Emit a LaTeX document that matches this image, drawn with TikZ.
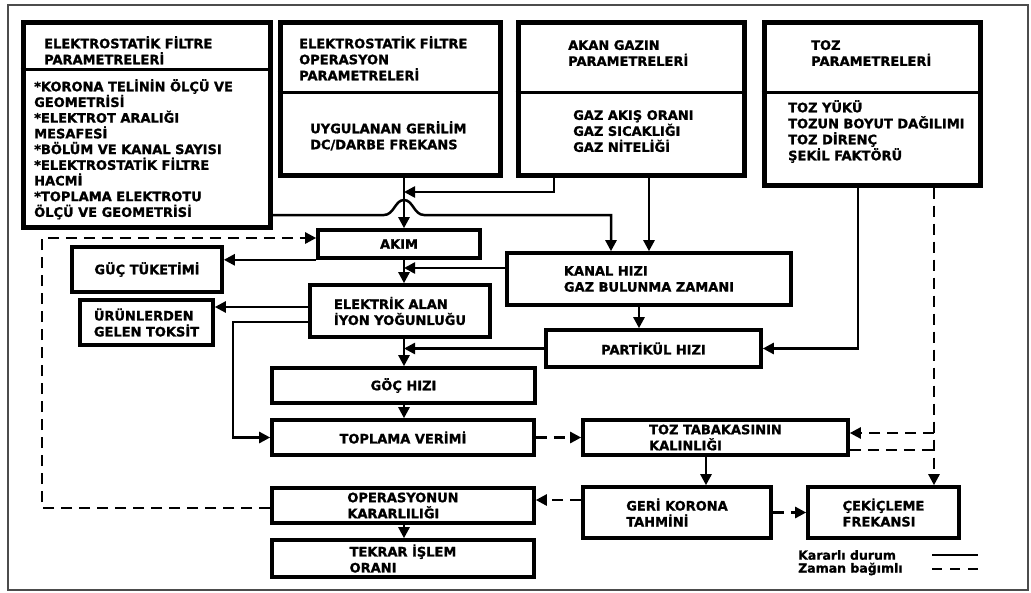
\documentclass[tikz,border=0pt]{standalone}
\usepackage{fontspec}
\setsansfont{DejaVu Sans}[BoldFeatures={FakeBold=1.2}]
\usetikzlibrary{arrows.meta}

\begin{document}
\begin{tikzpicture}[x=1pt,y=-1pt,
  font=\sffamily\bfseries\fontsize{13}{16}\selectfont,
  bigbox/.style={draw, line width=5pt, inner sep=0pt},
  smallbox/.style={draw, line width=3.6pt, inner sep=0pt, align=left},
  txt/.style={inner sep=0pt, align=left, anchor=north west},
  conn/.style={line width=2.5pt},
  arr/.style={conn, -{Triangle[length=11pt,width=11pt]}},
  zb/.style={conn, dash pattern=on 11pt off 7pt},
  zbarr/.style={zb, -{Triangle[length=11pt,width=11pt]}}]
\useasboundingbox (0,0) rectangle (1031,592);
\draw[gray!60!black, line width=2pt] (8,5) rectangle (1028,590);

% parameter boxes
\node[bigbox, minimum width=247pt, minimum height=205pt] (pf) at (146.5,124.5) {};
\node[bigbox, minimum width=220pt, minimum height=153pt] (opf) at (390,98.5) {};
\node[bigbox, minimum width=226pt, minimum height=153pt] (gaz) at (631,98.5) {};
\node[bigbox, minimum width=216pt, minimum height=163pt] (toz) at (872,103.5) {};

\draw[line width=2.8pt] ([yshift=-50pt]pf.north west) -- ([yshift=-50pt]pf.north east);
\draw[line width=2.8pt] ([yshift=-73pt]opf.north west) -- ([yshift=-73pt]opf.north east);
\draw[line width=2.8pt] ([yshift=-73pt]gaz.north west) -- ([yshift=-73pt]gaz.north east);
\draw[line width=2.8pt] ([yshift=-73pt]toz.north west) -- ([yshift=-73pt]toz.north east);

\node[txt] (pfh) at (44,36) {ELEKTROSTATİK FİLTRE\\PARAMETRELERİ};
\node[txt, font=\sffamily\bfseries\fontsize{13}{15.7}\selectfont] (pfb) at (34,79)
  {*KORONA TELİNİN ÖLÇÜ VE\\GEOMETRİSİ\\*ELEKTROT ARALIĞI\\MESAFESİ\\*BÖLÜM VE KANAL SAYISI\\*ELEKTROSTATİK FİLTRE\\HACMİ\\*TOPLAMA ELEKTROTU\\ÖLÇÜ VE GEOMETRİSİ};
\node[txt] (opfh) at (299,36) {ELEKTROSTATİK FİLTRE\\OPERASYON\\PARAMETRELERİ};
\node[txt] (opfb) at (310,121) {UYGULANAN GERİLİM\\DC/DARBE FREKANS};
\node[txt] (gazh) at (568,40) {AKAN GAZIN\\PARAMETRELERİ};
\node[txt] (gazb) at (573,110) {GAZ AKIŞ ORANI\\GAZ SICAKLIĞI\\GAZ NİTELİĞİ};
\node[txt] (tozh) at (811,40) {TOZ\\PARAMETRELERİ};
\node[txt] (tozb) at (788,100) {TOZ YÜKÜ\\TOZUN BOYUT DAĞILIMI\\TOZ DİRENÇ\\ŞEKİL FAKTÖRÜ};

% process boxes
\node[smallbox, minimum width=162pt, minimum height=28pt] (akim) at (399,244) {AKIM};
\node[smallbox, minimum width=150pt, minimum height=45pt] (guc) at (147,269.5) {GÜÇ TÜKETİMİ};
\node[smallbox, minimum width=133pt, minimum height=45pt] (urun) at (146.5,322.5) {ÜRÜNLERDEN\\GELEN TOKSİT};
\node[smallbox, minimum width=180pt, minimum height=52pt] (elek) at (400,311) {ELEKTRİK ALAN\\İYON YOĞUNLUĞU};
\node[smallbox, minimum width=284pt, minimum height=52pt] (kanal) at (649,279) {KANAL HIZI\\GAZ BULUNMA ZAMANI};
\node[smallbox, minimum width=215pt, minimum height=37pt] (partikul) at (653.5,348.5) {PARTİKÜL HIZI};
\node[smallbox, minimum width=263pt, minimum height=35pt] (goc) at (403.5,385.5) {GÖÇ HIZI};
\node[smallbox, minimum width=262pt, minimum height=35pt] (toplama) at (403,437.5) {TOPLAMA VERİMİ};
\node[smallbox, minimum width=262pt, minimum height=35pt] (oper) at (403,505.5) {OPERASYONUN\\KARARLILIĞI};
\node[smallbox, minimum width=262pt, minimum height=37pt] (tekrar) at (403,558.5) {TEKRAR İŞLEM\\ORANI};
\node[smallbox, minimum width=265pt, minimum height=35pt] (tozt) at (715.5,437.5) {TOZ TABAKASININ\\KALINLIĞI};
\node[smallbox, minimum width=188pt, minimum height=51pt] (geri) at (677,512.5) {GERİ KORONA\\TAHMİNİ};
\node[smallbox, minimum width=151pt, minimum height=51pt] (cekic) at (883.5,512.5) {ÇEKİÇLEME\\FREKANSI};

% points for the routes
\coordinate (sp) at (404,0);
\coordinate (g1) at (554,192);
\coordinate (h) at (404,215);
\coordinate (k1) at (611,0);
\coordinate (k2) at (649,0);
\coordinate (k3) at (0,268);
\coordinate (k4) at (639,0);
\coordinate (t1) at (858,0);
\coordinate (t2) at (934,0);
\coordinate (t3) at (706,0);
\coordinate (d1) at (934,433);
\coordinate (d2) at (934,450);
\coordinate (d3) at (0,500);
\coordinate (e1) at (233,322);
\coordinate (e2) at (0,307);
\coordinate (l1) at (42,508);
\coordinate (l2) at (42,238);

% steady state
\draw[arr] (opf.south -| sp) -- (akim.north -| sp);
\draw[arr] (gaz.south -| g1) -- (g1) -- (g1 -| sp);
\draw[arr] (pf.east |- h) -- ([xshift=-20pt]h)
  .. controls ([xshift=-10pt]h) and ([xshift=-9pt,yshift=15pt]h) .. ([yshift=15pt]h)
  .. controls ([xshift=9pt,yshift=15pt]h) and ([xshift=10pt]h) .. ([xshift=20pt]h)
  -| (kanal.north -| k1);
\draw[arr] (gaz.south -| k2) -- (kanal.north -| k2);
\draw[arr] (toz.south -| t1) |- (partikul.east);
\draw[arr] (akim.south -| sp) -- (elek.north -| sp);
\draw[arr] (kanal.west |- k3) -- (sp |- k3);
\draw[arr] (akim.south west) -- (akim.south west -| guc.east);
\draw[arr] (elek.west |- e2) -- (urun.east |- e2);
\draw[arr] (elek.west |- e1) -- (e1) |- (toplama.west);
\draw[arr] (kanal.south -| k4) -- (partikul.north -| k4);
\draw[arr] (partikul.west) -- (partikul.west -| sp);
\draw[arr] (elek.south -| sp) -- (goc.north -| sp);
\draw[arr] (goc.south -| sp) -- (toplama.north -| sp);
\draw[arr] (tozt.south -| t3) -- (geri.north -| t3);
\draw[arr] (oper.south -| sp) -- (tekrar.north -| sp);

% time dependent
\draw[zbarr] (toz.south -| t2) -- (cekic.north -| t2);
\draw[zbarr] (d1) -- (d1 -| tozt.east);
\draw[zb] (tozt.east |- d2) -- (d2);
\draw[zbarr] (toplama.east) -- (tozt.west);
\draw[zbarr] (geri.west |- d3) -- (oper.east |- d3);
\draw[zbarr] (geri.east) -- (cekic.west);
\draw[zbarr] (oper.west |- l1) -- (l1) -- (l2) -- (l2 -| akim.west);

% legend
\node[anchor=west, inner sep=0pt, font=\sffamily\bfseries\fontsize{12.5}{14}\selectfont] (kd) at (798,555) {Kararlı durum};
\node[anchor=west, inner sep=0pt, font=\sffamily\bfseries\fontsize{12.5}{14}\selectfont] (zm) at (798,569) {Zaman bağımlı};
\coordinate (kd1) at (932,555);
\coordinate (kd2) at (978,555);
\coordinate (zm1) at (932,569);
\coordinate (zm2) at (978,569);
\draw[conn] (kd1) -- (kd2);
\draw[conn, dash pattern=on 10pt off 8pt] (zm1) -- (zm2);

\end{tikzpicture}
\end{document}
